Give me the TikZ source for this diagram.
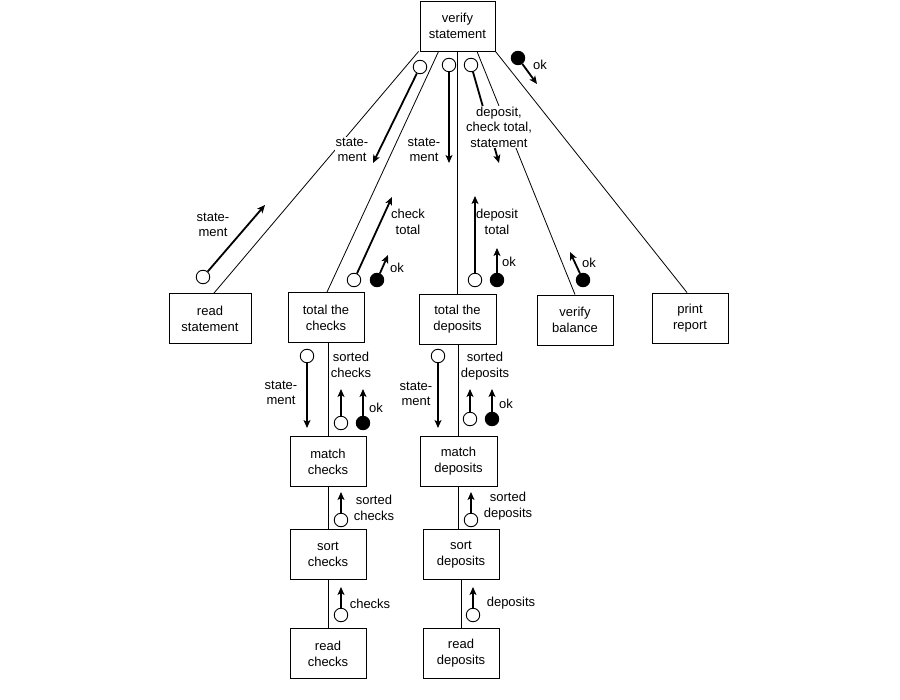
\documentclass[tikz,border=0pt]{standalone}
\usepackage{fontspec}
\setmainfont{Liberation Sans}
\usetikzlibrary{arrows.meta}
\begin{document}
\begin{tikzpicture}[x=1pt,y=-1pt,
  box/.style={draw, line width=0.9pt, align=center, inner sep=0pt, minimum width=76, minimum height=50, font=\fontsize{13}{16}\selectfont},
  link/.style={line width=0.8pt},
  flow/.style={line width=1.8pt, -{Stealth[length=8pt,width=7pt,inset=2pt]}},
  oc/.style={circle, draw, line width=0.9pt, fill=white, minimum size=13.5, inner sep=0pt},
  fc/.style={circle, draw, line width=0.9pt, fill=black, minimum size=13.5, inner sep=0pt},
  lbl/.style={align=center, inner sep=1pt, font=\fontsize{13}{15.5}\selectfont}]
\useasboundingbox (0,0) rectangle (900,700);
\fill[white] (0,0) rectangle (900,700);
% boxes
\node[box, minimum width=75] (vs) at (457.5,26) {verify\\statement};
\node[box, minimum width=82] (rs) at (210,318.5) {read\\statement};
\node[box] (tc) at (326,317.5) {total the\\checks};
\node[box, minimum width=77] (td) at (457.5,319) {total the\\deposits};
\node[box] (vb) at (575,320) {verify\\balance};
\node[box] (pr) at (690,318) {print\\report};
\node[box] (mc) at (328,461.5) {match\\checks};
\node[box, minimum width=77] (md) at (458.5,461.5) {match\\deposits};
\node[box] (sc) at (328,554.5) {sort\\checks};
\node[box] (sd) at (461,554.5) {sort\\deposits};
\node[box] (rc) at (328,653.5) {read\\checks};
\node[box] (rd) at (461,653.5) {read\\deposits};
% links
\draw[link] ([xshift=-1]vs.south west) -- ([xshift=4]rs.north);
\draw[link] ([xshift=19]vs.south west) -- ([xshift=1]tc.north);
\draw[link] (vs.south) -- (td.north);
\draw[link] ([xshift=19.5]vs.south) -- (vb.north);
\draw[link] (vs.south east) -- ([xshift=-3]pr.north);
\draw[link] (mc.north |- tc.south) -- (mc.north);
\draw[link] (md.north |- td.south) -- (md.north);
\draw[link] (sc.north |- mc.south) -- (sc.north);
\draw[link] (md.south) -- (md.south |- sd.north);
\draw[link] (rc.north |- sc.south) -- (rc.north);
\draw[link] (rd.north |- sd.south) -- (rd.north);
% label over link
\node[lbl, fill=white] (l1) at (352,150) {state-\\ment};
% couples from verify statement
\node[oc] (c1) at (420,67) {};
\coordinate (e1) at (373,163);
\draw[flow] (c1) -- (e1);
\node[oc] (c2) at (449,65) {};
\coordinate (e2) at (449,163);
\draw[flow] (c2) -- (e2);
\node[lbl] (l2) at (424,150) {state-\\ment};
\node[oc] (c3) at (471,65) {};
\coordinate (e3) at (499,163);
\draw[flow] (c3) -- (e3);
\node[lbl, fill=white] (l3) at (499,127) {deposit,\\check total,\\statement};
\node[fc] (c4) at (518,58) {};
\coordinate (e4) at (537,84);
\draw[flow] (c4) -- (e4);
\node[lbl] (l4) at (540,65) {ok};
% couples up to verify statement
\node[oc] (c5) at (203,277) {};
\coordinate (e5) at (265,205);
\draw[flow] (c5) -- (e5);
\node[lbl] (l5) at (213,225) {state-\\ment};
\node[oc] (c6) at (354,280) {};
\coordinate (e6) at (392,197);
\draw[flow] (c6) -- (e6);
\node[lbl] (l6) at (408,222) {check\\total};
\node[fc] (c7) at (377,280) {};
\coordinate (e7) at (388,255);
\draw[flow] (c7) -- (e7);
\node[lbl] (l7) at (397,268) {ok};
\node[oc] (c8) at (475,280) {};
\coordinate (e8) at (475,196);
\draw[flow] (c8) -- (e8);
\node[lbl] (l8) at (497,222) {deposit\\total};
\node[fc] (c9) at (497,280) {};
\coordinate (e9) at (497,248);
\draw[flow] (c9) -- (e9);
\node[lbl] (l9) at (509,262) {ok};
\node[fc] (c10) at (583,280) {};
\coordinate (e10) at (570,252);
\draw[flow] (c10) -- (e10);
\node[lbl] (l10) at (589,263) {ok};
% below total the checks
\node[oc] (c11) at (307,356) {};
\coordinate (e11) at (307,428);
\draw[flow] (c11) -- (e11);
\node[lbl] (l11) at (281,393) {state-\\ment};
\node[oc] (c12) at (341,423) {};
\coordinate (e12) at (341,389);
\draw[flow] (c12) -- (e12);
\node[lbl] (l12) at (351,365) {sorted\\checks};
\node[fc] (c13) at (363,423) {};
\coordinate (e13) at (363,389);
\draw[flow] (c13) -- (e13);
\node[lbl] (l13) at (376,408) {ok};
% below total the deposits
\node[oc] (c14) at (438,356) {};
\coordinate (e14) at (438,428);
\draw[flow] (c14) -- (e14);
\node[lbl] (l14) at (416,394) {state-\\ment};
\node[oc] (c15) at (470,419) {};
\coordinate (e15) at (470,389);
\draw[flow] (c15) -- (e15);
\node[lbl] (l15) at (485,366) {sorted\\deposits};
\node[fc] (c16) at (492,419) {};
\coordinate (e16) at (492,389);
\draw[flow] (c16) -- (e16);
\node[lbl] (l16) at (506,404) {ok};
% below match
\node[oc] (c17) at (341,520) {};
\coordinate (e17) at (341,492);
\draw[flow] (c17) -- (e17);
\node[lbl] (l17) at (374,508) {sorted\\checks};
\node[oc] (c18) at (471,520) {};
\coordinate (e18) at (471,492);
\draw[flow] (c18) -- (e18);
\node[lbl] (l18) at (508,506) {sorted\\deposits};
% below sort
\node[oc] (c19) at (341,615) {};
\coordinate (e19) at (341,587);
\draw[flow] (c19) -- (e19);
\node[lbl] (l19) at (370,604) {checks};
\node[oc] (c20) at (473,615) {};
\coordinate (e20) at (473,587);
\draw[flow] (c20) -- (e20);
\node[lbl] (l20) at (511,603) {deposits};
\end{tikzpicture}
\end{document}
